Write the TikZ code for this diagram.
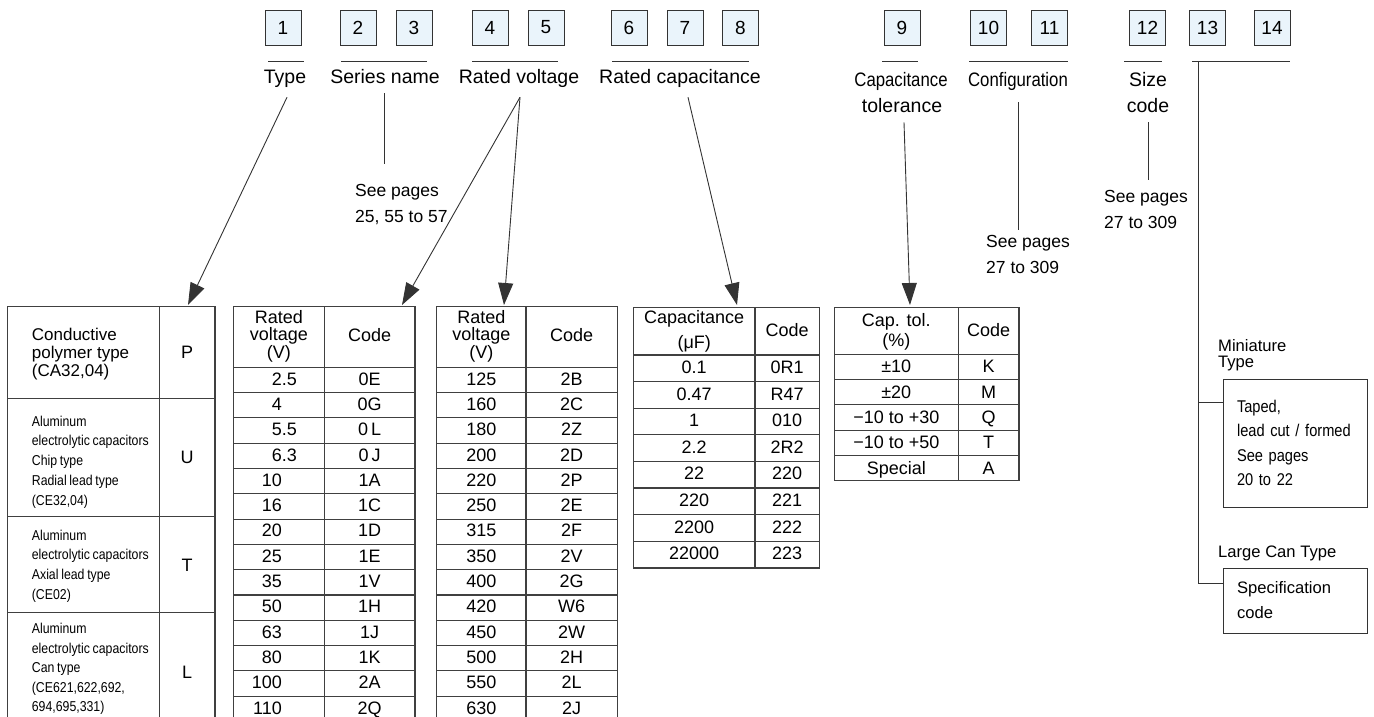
\documentclass[tikz,border=0pt]{standalone}
\usepackage{fontspec}
\setmainfont{Liberation Sans}
\newfontfamily\narrowfont[FakeStretch=0.86,WordSpace=0.8]{Liberation Sans}
\usetikzlibrary{arrows.meta}
\definecolor{boxblue}{RGB}{234,244,251}

\tikzset{
  numbox/.style={draw=black!80, fill=boxblue, minimum width=36pt, minimum height=35pt,
    inner sep=0pt, font=\fontsize{19}{22}\selectfont},
  lbl/.style={inner sep=0pt, anchor=base, font=\fontsize{19.5}{26}\selectfont},
  nlbl/.style={lbl, font=\narrowfont\fontsize{19.5}{26}\selectfont},
  note/.style={inner sep=0pt, anchor=base west, align=left, font=\fontsize{17.5}{25.5}\selectfont},
  cell/.style={inner sep=0pt, font=\fontsize{18}{20}\selectfont, text height=13pt, text depth=0pt},
  hdr/.style={inner sep=0pt, anchor=base, align=center},
  typetxt/.style={inner sep=0pt, anchor=base west, align=left},
  specbox/.style={draw=black!80, line width=0.9pt, minimum width=144pt, inner sep=0pt,
    align=left},
  tbl/.style={draw=black!75, line width=1.1pt},
  ln/.style={black!80, line width=0.9pt},
  arr/.style={ln, -{Triangle[length=22pt,width=15pt]}},
}

\begin{document}
\begin{tikzpicture}[x=1pt,y=-1pt]
\clip (0,0) rectangle (1374,717);

% code position boxes
\foreach \n/\x in {1/283,2/358,3/414,4/490,5/546,6/629,7/685,8/740.5,9/902,
                   10/988.5,11/1049.5,12/1147.5,13/1207.5,14/1272}
  \node[numbox] (b\n) at (\x,27.5) {\n};

% rules under the boxes
\foreach \a/\b in {268/304,341/427,472/558,612/749,882/918,969/1068,1124/1162,1192/1290}
  \draw[ln] (\a,61) -- (\b,61);

% labels (multi-line nodes sit on their last line)
\node[lbl] (lType) at (285,84) {Type};
\node[lbl] (lSeries) at (385,84) {Series name};
\node[lbl] (lVolt) at (519,84) {Rated voltage};
\node[lbl] (lCap) at (680,84) {Rated capacitance};
\node[nlbl] (lTolA) at (901,86) {Capacitance};
\node[lbl] (lTol) at (902,112) {tolerance};
\node[nlbl] (lConf) at (1018,86) {Configuration};
\node[lbl, align=center] (lSize) at (1148,112) {Size\\code};

\node[note] (seeSeries) at (355,222) {See pages\\25, 55 to 57};
\node[note, font=\fontsize{17.5}{26.5}\selectfont] (seeConf) at (986,273.5) {See pages\\27 to 309};
\node[note] (seeSize) at (1104,228.3) {See pages\\27 to 309};

% where the arrows land
\coordinate (inType) at (188,305);
\coordinate (inV1) at (402,305);
\coordinate (inV2) at (504,305);
\coordinate (inCap) at (737,305);
\coordinate (inTol) at (910,305);

\draw[arr] ([xshift=2pt]lType.south) ++(0,9) -- (inType);
\draw[ln] (lSeries.south) ++(-1,9) -- ++(0,71);
\draw[arr] (lVolt.south) ++(1,9) -- (inV1);
\draw[arr] (lVolt.south) ++(1,9) -- (inV2);
\draw[arr] (lCap.south) ++(8,9) -- (inCap);
\draw[arr] (lTol.south) ++(2,10) -- (inTol);
\draw[ln] (lConf.south) ++(0,12) -- ++(0,128);
\draw[ln] (lSize.south) ++(0,10) -- ++(0,58);

% type table
\draw[tbl] (7.3,306.7) rectangle (215,725);
\draw[tbl] (159.3,306.7) -- (159.3,725);
\foreach \y in {398.3,516.7,612.7}
  \draw[tbl] (7.3,\y) -- (215,\y);
\node[typetxt, font=\fontsize{17}{18.3}\selectfont] (tP) at (31.7,376.6)
  {Conductive\\polymer type\\(CA32,04)};
\node[typetxt, font=\narrowfont\fontsize{14.3}{19.8}\selectfont] (tU) at (31.7,505.2)
  {Aluminum\\electrolytic capacitors\\Chip type\\Radial lead type\\(CE32,04)};
\node[typetxt, font=\narrowfont\fontsize{14.3}{19.8}\selectfont] (tT) at (31.7,599.4)
  {Aluminum\\electrolytic capacitors\\Axial lead type\\(CE02)};
\node[typetxt, font=\narrowfont\fontsize{14.3}{19.5}\selectfont] (tL) at (31.7,711.5)
  {Aluminum\\electrolytic capacitors\\Can type\\(CE621,622,692,\\694,695,331)};
\node[cell] (cP) at (187.2,352) {P};
\node[cell] (cU) at (187.2,457) {U};
\node[cell] (cT) at (187.2,565) {T};
\node[cell] (cL) at (187.2,672) {L};

% rated voltage tables
\draw[tbl] (233.3,306.7) rectangle (415,725);
\draw[tbl] (324.3,306.7) -- (324.3,725);
\draw[tbl] (233.3,367.3) -- (415,367.3);
\node[hdr, font=\fontsize{18}{17.5}\selectfont] (hV1) at (278.8,358.3) {Rated\\voltage\\(V)};
\node[cell] (hC1) at (369.7,335) {Code};
\foreach \v/\c [count=\i] in {2\rlap{.5}/0E,4/0G,5\rlap{.5}/0\,L,6\rlap{.3}/0\,J,10/1A,16/1C,
    20/1D,25/1E,35/1V,50/1H,63/1J,80/1K,100/2A,110/2Q}{
  \node[cell, anchor=east] (va\i) at (282,353.3+\i*25.3) {\v};
  \node[cell] (ca\i) at (369.7,353.3+\i*25.3) {\c};
  \draw[tbl] (233.3,367.3+\i*25.3) -- (415,367.3+\i*25.3);
}

\draw[tbl] (436.7,306.7) rectangle (617.5,725);
\draw[tbl] (526,306.7) -- (526,725);
\draw[tbl] (436.7,367.3) -- (617.5,367.3);
\node[hdr, font=\fontsize{18}{17.5}\selectfont] (hV2) at (481.3,358.3) {Rated\\voltage\\(V)};
\node[cell] (hC2) at (571.7,335) {Code};
\foreach \v/\c [count=\i] in {125/2B,160/2C,180/2Z,200/2D,220/2P,250/2E,315/2F,
    350/2V,400/2G,420/W6,450/2W,500/2H,550/2L,630/2J}{
  \node[cell] (vb\i) at (481.3,353.3+\i*25.3) {\v};
  \node[cell] (cb\i) at (571.7,353.3+\i*25.3) {\c};
  \draw[tbl] (436.7,367.3+\i*25.3) -- (617.5,367.3+\i*25.3);
}

% capacitance table
\draw[tbl] (633.3,307.3) rectangle (819.3,568);
\draw[tbl] (755,307.3) -- (755,568);
\draw[tbl] (633.3,355) -- (819.3,355);
\node[hdr, font=\fontsize{18}{25}\selectfont] (hCap) at (694.2,348.3) {Capacitance\\(μF)};
\node[cell] (hC3) at (787.2,329.5) {Code};
\foreach \v/\c [count=\i] in {0.1/0R1,0.47/R47,1/010,2.2/2R2,22/220,220/221,
    2200/222,22000/223}{
  \node[cell] (vc\i) at (694.2,340.4+\i*26.6) {\v};
  \node[cell] (cc\i) at (787.2,340.4+\i*26.6) {\c};
  \ifnum\i<8 \draw[tbl] (633.3,355+\i*26.6) -- (819.3,355+\i*26.6); \fi
}

% tolerance table
\draw[tbl] (834.3,307.3) rectangle (1019,480.8);
\draw[tbl] (958.3,307.3) -- (958.3,480.8);
\draw[tbl] (834.3,354.3) -- (1019,354.3);
\node[hdr, font=\fontsize{18}{20}\selectfont] (hTol) at (896.3,346.7) {Cap. tol.\\(\%)};
\node[cell] (hC4) at (988.7,329.5) {Code};
\foreach \v/\c [count=\i] in {±10/K,±20/M,−10 to +30/Q,−10 to +50/T,Special/A}{
  \node[cell] (vd\i) at (896.3,341+\i*25.3) {\v};
  \node[cell] (cd\i) at (988.7,341+\i*25.3) {\c};
  \ifnum\i<5 \draw[tbl] (834.3,354.3+\i*25.3) -- (1019,354.3+\i*25.3); \fi
}

% option codes 13 and 14
\node[typetxt, font=\fontsize{16.6}{15.5}\selectfont] (lMini) at (1218,367.2) {Miniature\\Type};
\node[typetxt, font=\fontsize{16.6}{20}\selectfont] (lLarge) at (1218,557) {Large Can Type};
\node[specbox, minimum height=128pt, text width=116pt,
      font=\narrowfont\fontsize{17}{24.5}\selectfont] (boxMini) at (1295,443)
  {Taped,\\lead cut / formed\\See pages\\20 to 22};
\node[specbox, minimum height=65pt, text width=116pt,
      font=\fontsize{16.6}{25}\selectfont] (boxSpec) at (1295,600.5)
  {Specification\\code};
\coordinate (brTop) at (1198,61);
\draw[ln] (brTop) |- ([yshift=17.5pt]boxSpec.west);
\draw[ln] ([yshift=41pt]boxMini.west) -- +(-25,0);
\end{tikzpicture}
\end{document}
